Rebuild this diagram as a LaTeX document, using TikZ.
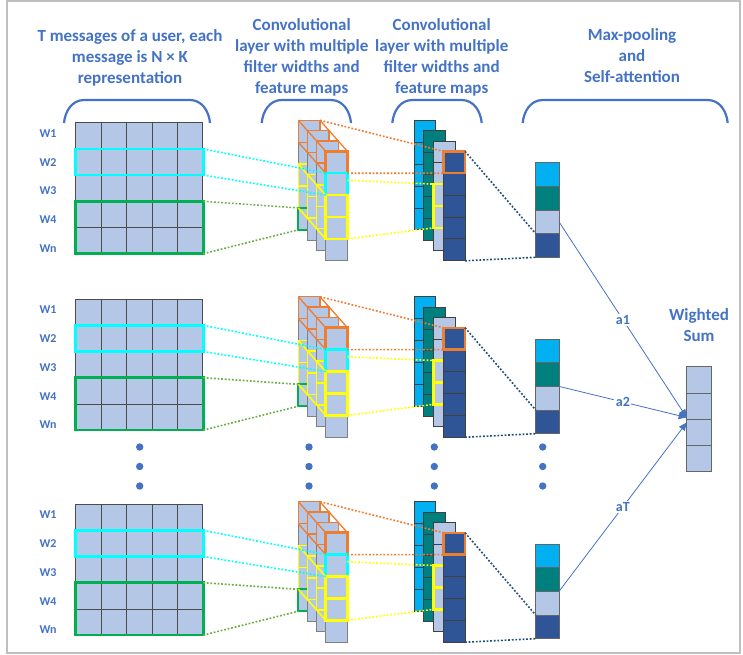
\documentclass[tikz,border=0pt]{standalone}
\usepackage{fontspec}
\setmainfont{Carlito}
\usetikzlibrary{arrows.meta}

\definecolor{ttlblue}{HTML}{4472C4}
\definecolor{cellblue}{HTML}{B4C7E7}
\definecolor{skyblue}{HTML}{00B0F0}
\definecolor{tealmap}{HTML}{007F7F}
\definecolor{navymap}{HTML}{2F5597}
\definecolor{orangebox}{HTML}{ED7D31}
\definecolor{yellowbox}{HTML}{FFFF00}
\definecolor{cyanbox}{HTML}{00FFFF}
\definecolor{greenbox}{HTML}{00B050}
\definecolor{greenline}{HTML}{70AD47}
\definecolor{navyline}{HTML}{1F4E79}
\definecolor{framegray}{HTML}{BFBFBF}

\tikzset{
  ttl/.style={align=center, inner sep=0pt, text=ttlblue, font=\fontsize{17}{21}\selectfont\bfseries},
  wlabel/.style={inner sep=0pt, text=ttlblue, font=\fontsize{12}{14}\selectfont\bfseries},
  brace/.style={ttlblue, line width=2.2pt},
  cell/.style={fill=cellblue, draw=black!70, line width=0.7pt},
  slabcell/.style={fill=cellblue, draw=black!50, line width=0.8pt},
  mapcell/.style={fill=#1, draw=black!75, line width=0.8pt},
  poolcell/.style={rectangle, minimum width=23.3pt, minimum height=23.65pt, inner sep=0pt, outer sep=0pt, draw=black!60, line width=0.8pt},
  sumcell/.style={poolcell, minimum width=25pt, minimum height=26.25pt, fill=cellblue},
  dotline/.style={draw=#1, line width=1.6pt, dash pattern=on 1.8pt off 1.8pt},
  wire/.style={ttlblue, line width=0.8pt, -{Triangle[length=8pt,width=7pt]}},
  weight/.style={fill=white, inner sep=1.5pt, text=ttlblue, font=\fontsize{14}{16}\selectfont\bfseries},
}

\begin{document}
\begin{tikzpicture}[x=1pt,y=-1pt]
\useasboundingbox (0,0) rectangle (743,654);
\draw[framegray, line width=1.2pt] (7,1) rectangle (740,653);

% headings
\node[ttl] (hmsg) at (130,57.4) {T messages of a user, each\\message is N × K\\representation};
\node[ttl] (hconva) at (301.7,56.9) {Convolutional\\layer with multiple\\filter widths and\\feature maps};
\node[ttl] (hconvb) at (441.7,56.9) {Convolutional\\layer with multiple\\filter widths and\\feature maps};
\node[ttl] (hpool) at (632,55.8) {Max-pooling\\and\\Self-attention};
\node[ttl] (hsum) at (699,325.2) {Wighted\\Sum};

% braces over the columns
\foreach \xa/\xb in {64/210, 261.7/351, 392.3/481.7, 522.7/727.7}
  \draw[brace] (\xa,123) to[out=85,in=180] (\xa+20,100) -- (\xb-20,100) to[out=0,in=95] (\xb,123);

\foreach \b/\oy in {1/0,2/176.4,3/381.4}{
  % words
  \foreach \w [count=\k from 0] in {W1,W2,W3,W4,Wn}
    \node[wlabel] (w\b\k) at (48,133.6+\oy+28.7*\k) {\w};
  % message matrix
  \foreach \r in {0,...,4}
    \foreach \c in {0,...,4}
      \draw[cell] (75.7+25.4*\c,122.7+\oy+26.2*\r) rectangle ++(25.4,26.2);
  \draw[cyanbox, line width=2.6pt] (75.2,148.9+\oy) rectangle (203.2,175.1+\oy);
  \draw[greenbox, line width=2.6pt] (75.2,201.3+\oy) rectangle (203.2,253.7+\oy);

  % first convolution: slabs back to front
  \foreach \i in {0,...,3}{
    \begin{scope}[shift={(298.3+9.13*\i,120.3+\oy+10.33*\i)}]
      \foreach \r in {0,...,4}
        \draw[slabcell] (0,21.9*\r) rectangle ++(21.7,21.9);
      \ifnum\i<3
        \draw[orangebox, line width=1.3pt] (0,0) rectangle (21.7,21.9);
        \draw[yellowbox, line width=1.6pt] (0,43.8) rectangle (21.7,87.6) (0,65.7) -- (21.7,65.7);
      \else
        \draw[orangebox, line width=2.5pt] (0,0) rectangle (21.7,21.9);
        \draw[cyanbox, line width=2.5pt] (0,21.9) rectangle (21.7,43.8);
        \draw[yellowbox, line width=2.5pt] (0,43.8) rectangle (21.7,87.6) (0,65.7) -- (21.7,65.7);
      \fi
      \ifnum\i=0
        \draw[greenbox, line width=2pt] (0,87.6) rectangle (21.7,109.5);
      \fi
    \end{scope}
  }
  \begin{scope}[shift={(298.3,120.3+\oy)}]
    \draw[orangebox, line width=1.3pt] (0,0) -- ++(27.4,31) (21.7,0) -- ++(27.4,31) (0,21.9) -- ++(27.4,31);
    \draw[yellowbox, line width=1.6pt] (0,43.8) -- ++(27.4,31) (0,87.6) -- ++(27.4,31);
  \end{scope}

  % second convolution: feature maps
  \foreach \f/\j in {skyblue/0,tealmap/1,cellblue/2,navymap/3}{
    \foreach \r in {0,...,4}
      \draw[mapcell=\f] (414+9.77*\j,120.3+\oy+10.33*\j+21.9*\r) rectangle ++(21.7,21.9);
    \ifnum\j=2
      \draw[yellowbox, line width=2.4pt] (433.5,184.1+\oy) rectangle (455.2,227.9+\oy) (433.5,206+\oy) -- (455.2,206+\oy);
    \fi
  }
  \draw[orangebox, line width=2.4pt] (443.3,151.3+\oy) rectangle (465,173.2+\oy);

  % pooled vector
  \foreach \f [count=\k from 0] in {skyblue,tealmap,cellblue,navymap}
    \node[poolcell, fill=\f] (p\b\k) at (547.35,174.5+\oy+23.65*\k) {};

  % connector ends
  \coordinate (mcT\b) at (203.2,148.9+\oy);
  \coordinate (mcB\b) at (203.2,175.1+\oy);
  \coordinate (mgT\b) at (203.2,201.3+\oy);
  \coordinate (mgB\b) at (203.2,253.7+\oy);
  \coordinate (fcT\b) at (325.7,173.2+\oy);
  \coordinate (fcB\b) at (325.7,195.1+\oy);
  \coordinate (bgT\b) at (298.3,207.9+\oy);
  \coordinate (bgB\b) at (298.3,229.8+\oy);
  \coordinate (boT\b) at (320,120.3+\oy);
  \coordinate (foB\b) at (347.4,173.2+\oy);
  \coordinate (fyT\b) at (347.4,180.3+\oy);
  \coordinate (fyB\b) at (347.4,238.9+\oy);
  \coordinate (moT\b) at (443.3,151.3+\oy);
  \coordinate (moB\b) at (443.3,173.2+\oy);
  \coordinate (myT\b) at (433.5,184.1+\oy);
  \coordinate (myB\b) at (433.5,227.9+\oy);
  \coordinate (mdT\b) at (465,151.3+\oy);
  \coordinate (mdB\b) at (465,260.8+\oy);

  \draw[dotline=cyanbox] (mcT\b) -- (fcT\b) (mcB\b) -- (fcB\b);
  \draw[dotline=greenline] (mgT\b) -- (bgT\b) (mgB\b) -- (bgB\b);
  \draw[dotline=orangebox] (boT\b) -- (moT\b) (foB\b) -- (moB\b);
  \draw[dotline=yellowbox] (fyT\b) -- (myT\b) (fyB\b) -- (myB\b);
  \draw[dotline=navyline] (mdT\b) -- (p\b3.north west) (mdB\b) -- (p\b3.south west);
}

% ellipsis dots
\foreach \x in {139.7,309,434.3,542.7}
  \foreach \y in {447,466.5,486}
    \fill[ttlblue] (\x,\y) circle (3.7pt);

% weighted sum
\foreach \k in {0,...,3}
  \node[sumcell] (ws\k) at (699.2,379.8+26.25*\k) {};
\coordinate (tipA) at (686.7,417.5);
\coordinate (tipT) at (686.7,422.5);
\draw[wire] (p12.east) -- node[weight] {a1} (tipA);
\draw[wire] (p22.north east) -- node[weight] {a2} (tipA);
\draw[wire] (p32.north east) -- node[weight] {aT} (tipT);
\end{tikzpicture}
\end{document}
